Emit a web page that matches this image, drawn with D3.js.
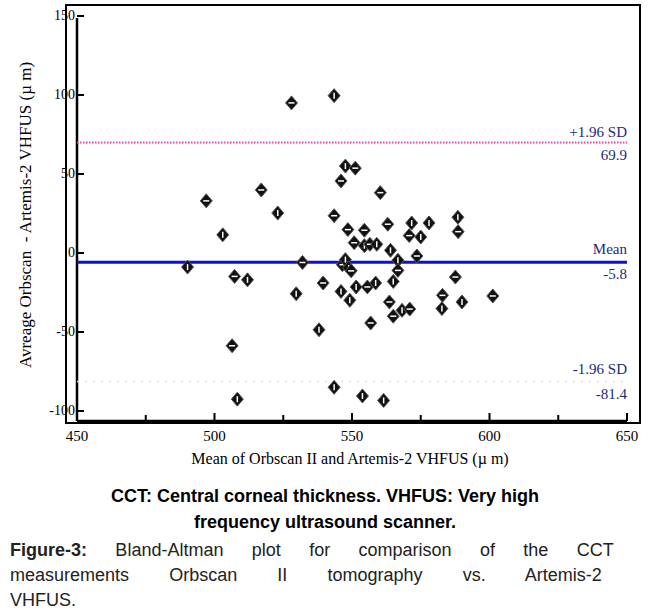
<!DOCTYPE html>
<html><head><meta charset="utf-8">
<script src="https://cdn.jsdelivr.net/npm/d3@7"></script>
<style>body{margin:0;background:#fff}</style>
</head><body>
<svg id="c" width="650" height="615"></svg>
<script>
const meanX = [490.2,497,503,507.3,512,506.4,508.3,517,523,528,529.7,532,538,539.5,543.5,543.5,543.5,546,547.6,551.2,546,546.5,547.6,548.5,548.8,549.7,549.2,550.8,551.5,554.5,554.5,556.5,559,555.6,558.6,556.8,553.8,560.3,561.5,563,564,563.6,565,565,566.7,566.7,568.2,571,571.7,570.8,575,573.6,578,582.9,582.7,587.6,588.5,588.6,590,601.2];
const diffY = [-8.9,33,11.5,-14.8,-17,-58.7,-92.5,39.9,25.3,95,-25.8,-6,-48.6,-19,99.6,23.6,-85,45.6,55,53.7,-24.3,-7.4,-4.2,14.8,-9.5,-11.3,-29.9,6.5,-21.5,14.4,4.6,5.5,5.5,-21.5,-19,-44.3,-90.5,38.2,-93.3,18.2,1.7,-31,-18,-40,-4.6,-11,-36.3,-35.5,19,11,10.1,-1.9,19,-26.8,-35.2,-15.2,22.6,13.5,-31,-27.2];
const xTicks = [450,500,550,600,650];
const xMinor = [475,525,575,625];
const yTicks = [-100,-50,0,50,100,150];
const limits = {mean:-5.8, upper:69.9, lower:-81.4};

const svg = d3.select('#c');
const x = d3.scaleLinear().domain([450,650]).range([77,627]);
const y = d3.scaleLinear().domain([-100,150]).range([411,16]);
const serif = 'Liberation Serif, DejaVu Serif, serif';

svg.append('rect').attr('x',66).attr('y',5).attr('width',574).attr('height',418)
  .attr('fill','none').attr('stroke','#000').attr('stroke-width',2);

// axes
svg.append('line').attr('x1',77).attr('x2',77).attr('y1',18).attr('y2',421).attr('stroke','#000').attr('stroke-width',2.5);
svg.append('line').attr('x1',77).attr('x2',627).attr('y1',421).attr('y2',421).attr('stroke','#000').attr('stroke-width',2.5);

const gx = svg.append('g').attr('font-family',serif).attr('font-size',15);
gx.selectAll('line.t').data(xTicks.concat(xMinor)).join('line')
  .attr('x1',x).attr('x2',x).attr('y1',421).attr('y2',d=>xTicks.includes(d)?413:415).attr('stroke','#000').attr('stroke-width',2);
gx.selectAll('text').data(xTicks).join('text')
  .attr('x',x).attr('y',441).attr('text-anchor','middle').text(d=>d);

const gy = svg.append('g').attr('font-family',serif).attr('font-size',14);
gy.selectAll('line').data(yTicks).join('line')
  .attr('x1',77).attr('x2',84).attr('y1',y).attr('y2',y).attr('stroke','#000').attr('stroke-width',2);
gy.selectAll('text').data(yTicks).join('text')
  .attr('x',75).attr('y',d=>y(d)+4).attr('text-anchor','end').text(d=>d);

// reference lines
svg.append('line').attr('x1',x(450)).attr('x2',x(650)).attr('y1',y(limits.upper)).attr('y2',y(limits.upper))
  .attr('stroke','#ff3c9a').attr('stroke-width',2).attr('stroke-dasharray','1.5,1.5');
svg.append('line').attr('x1',x(450)).attr('x2',x(650)).attr('y1',y(limits.lower)).attr('y2',y(limits.lower))
  .attr('stroke','#f4d8e8').attr('stroke-width',1.5).attr('stroke-dasharray','2,6');
svg.append('line').attr('x1',x(450)).attr('x2',x(650)).attr('y1',y(limits.mean)).attr('y2',y(limits.mean))
  .attr('stroke','#1010d0').attr('stroke-width',3);

const lab = svg.append('g').attr('font-family',serif).attr('font-size',15).attr('fill','#1a2a80').attr('text-anchor','end');
[['+1.96 SD',limits.upper,-6],[limits.upper.toFixed(1),limits.upper,17],
 ['Mean',limits.mean,-8],[limits.mean.toFixed(1),limits.mean,17],
 ['-1.96 SD',limits.lower,-8],[limits.lower.toFixed(1),limits.lower,17]]
 .forEach(([t,v,dy]) => lab.append('text').attr('x',627).attr('y',y(v)+dy).text(t));

// points
const pts = svg.append('g').selectAll('g').data(meanX.map((m,i)=>[m,diffY[i]])).join('g')
  .attr('transform',d=>`translate(${x(d[0])},${y(d[1])})`);
pts.append('path').attr('d','M0,-7L6,0L0,7L-6,0Z').attr('fill','#111').attr('stroke','#555').attr('stroke-width',1);
pts.append('line').attr('x1',(d,i)=>i%2?-3:0).attr('x2',(d,i)=>i%2?3:0)
  .attr('y1',(d,i)=>i%2?0:-3).attr('y2',(d,i)=>i%2?0:3).attr('stroke','#fff').attr('stroke-width',1.5);

// axis titles
svg.append('text').attr('x',350).attr('y',464).attr('text-anchor','middle')
  .attr('font-family',serif).attr('font-size',16).text('Mean of Orbscan II  and Artemis-2 VHFUS (\u00b5 m)');
svg.append('text').attr('transform','translate(31,215) rotate(-90)').attr('text-anchor','middle')
  .attr('font-family',serif).attr('font-size',17).attr('xml:space','preserve')
  .text('Avreage Orbscan  - Artemis-2 VHFUS (\u00b5 m)');

// caption
const sans = 'Liberation Sans, Arial, sans-serif';
svg.append('text').attr('x',325).attr('y',502).attr('text-anchor','middle').attr('font-family',sans)
  .attr('font-weight','bold').attr('font-size',18).text('CCT: Central corneal thickness. VHFUS: Very high');
svg.append('text').attr('x',325).attr('y',528).attr('text-anchor','middle').attr('font-family',sans)
  .attr('font-weight','bold').attr('font-size',18).text('frequency ultrasound scanner.');
const cap = svg.append('g').attr('font-family',sans).attr('font-size',18).attr('fill','#222');
const justify = (t, words) => {
  const w = t.node().getComputedTextLength();
  t.attr('word-spacing', Math.max(0,(627 - w) / (words - 1)));
};
const t1 = cap.append('text').attr('x',10).attr('y',556);
t1.append('tspan').attr('font-weight','bold').text('Figure-3:');
t1.append('tspan').text(' Bland-Altman plot for comparison of the CCT');
justify(t1, 9);
const t2 = cap.append('text').attr('x',10).attr('y',581).text('measurements Orbscan II tomography vs. Artemis-2');
justify(t2, 7);
cap.append('text').attr('x',10).attr('y',606).text('VHFUS.');
</script>
</body></html>
